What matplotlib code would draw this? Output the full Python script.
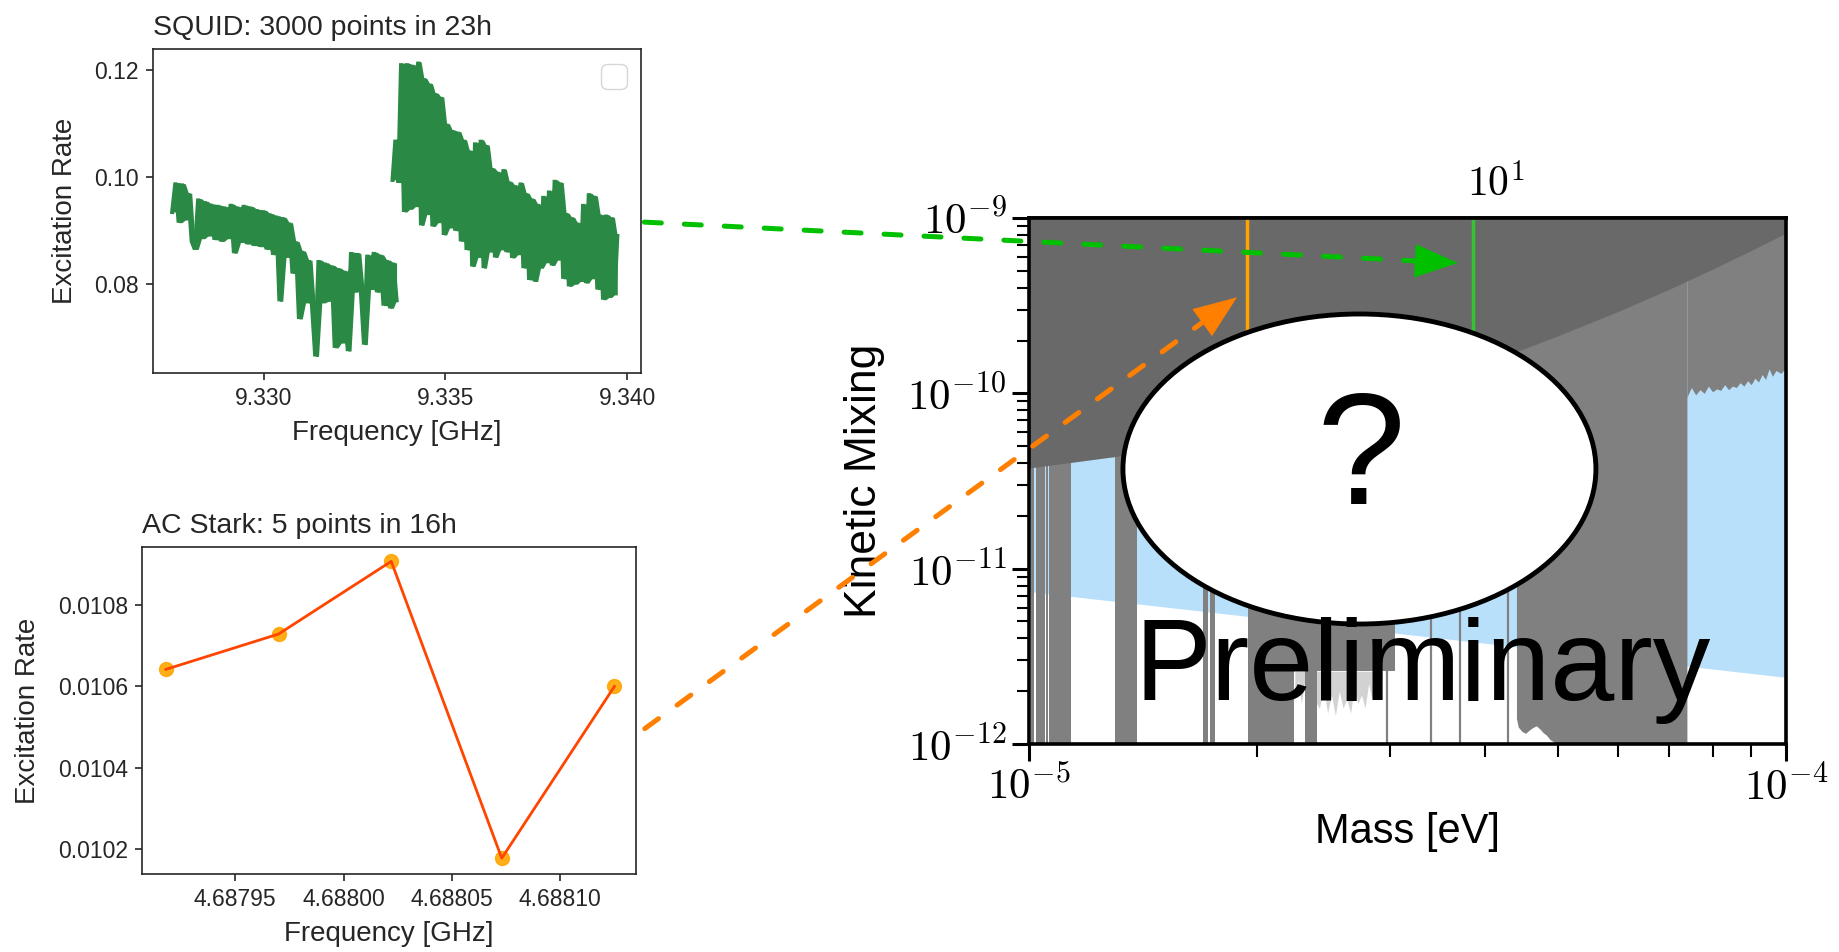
import numpy as np
import pandas as pd
import matplotlib.pyplot as plt
from matplotlib.patches import Ellipse, ConnectionPatch
from matplotlib.ticker import FormatStrFormatter, NullFormatter, LogLocator, FuncFormatter

plt.rcParams['font.family'] = ['Liberation Sans', 'DejaVu Sans']
plt.rcParams['mathtext.fontset'] = 'cm'

# ---------------- data ----------------
# SQUID sweep, two frequency windows (GHz)
squid_a_start, squid_a_stop = 9.327486, 9.333656
squid_a_rate = [0.0935, 0.0990, 0.0915, 0.0988, 0.0920, 0.0970, 0.0880, 0.0865, 0.0960, 0.0885,
                0.0955, 0.0890, 0.0950, 0.0883, 0.0948, 0.0880, 0.0945, 0.0885, 0.0950, 0.0858,
                0.0945, 0.0878, 0.0948, 0.0875, 0.0945, 0.0872, 0.0940, 0.0870, 0.0938, 0.0865,
                0.0932, 0.0855, 0.0928, 0.0768, 0.0925, 0.0850, 0.0915, 0.0820, 0.0880, 0.0735,
                0.0862, 0.0765, 0.0845, 0.0760, 0.0665, 0.0845, 0.0765, 0.0840, 0.0768, 0.0835,
                0.0681, 0.0830, 0.0690, 0.0825, 0.0675, 0.0860, 0.0785, 0.0858, 0.0790, 0.0687,
                0.0855, 0.0790, 0.0860, 0.0785, 0.0855, 0.0760, 0.0845, 0.0755, 0.0840, 0.0770]
squid_b_start, squid_b_stop = 9.333547, 9.339726
squid_b_rate = [0.0995, 0.1070, 0.0990, 0.1213, 0.0935, 0.1213, 0.0940, 0.1210, 0.0945, 0.1216,
                0.0910, 0.1185, 0.0930, 0.1175, 0.0908, 0.1157, 0.0915, 0.1150, 0.0892, 0.1100,
                0.0905, 0.1088, 0.0900, 0.1085, 0.0880, 0.1070, 0.0864, 0.1050, 0.0833, 0.1065,
                0.0850, 0.1070, 0.0830, 0.1060, 0.0860, 0.1017, 0.0850, 0.1010, 0.0864, 0.1015,
                0.0860, 0.0992, 0.0849, 0.0985, 0.0855, 0.0990, 0.0830, 0.0970, 0.0808, 0.0960,
                0.0805, 0.0950, 0.0830, 0.0965, 0.0840, 0.0975, 0.0835, 0.0995, 0.0845, 0.0990,
                0.0810, 0.0933, 0.0796, 0.0925, 0.0800, 0.0915, 0.0805, 0.0950, 0.0802, 0.0970,
                0.0810, 0.0965, 0.0790, 0.0930, 0.0771, 0.0930, 0.0775, 0.0925, 0.0780, 0.0890]

# AC Stark scan
stark_freq = [4.687918, 4.687970, 4.688022, 4.688073, 4.688125]
stark_rate = [0.010642, 0.010729, 0.010908, 0.010177, 0.010600]

# exclusion plot (mass in eV, kinetic mixing)
H_EV_S = 4.135667e-15
cosmo_mass = [1.0e-5, 1.3e-5, 1.6e-5, 2.0e-5, 2.5e-5, 3.0e-5, 3.5e-5, 4.0e-5,
              4.5e-5, 5.0e-5, 6.0e-5, 7.0e-5, 8.0e-5, 9.0e-5, 1.0e-4]
cosmo_eps = [3.75e-11, 4.36e-11, 5.08e-11, 6.23e-11, 7.93e-11, 9.91e-11, 1.22e-10, 1.49e-10,
             1.79e-10, 2.13e-10, 2.93e-10, 3.91e-10, 5.11e-10, 6.53e-10, 8.2e-10]
proj_mass = [1.0e-5, 1.0e-4]
proj_eps = [7.4e-12, 2.4e-12]
band_lo = [1.0061e-5, 1.0215e-5, 1.0540e-5, 1.0621e-5, 1.3007e-5, 1.6959e-5, 1.7366e-5,
           1.9450e-5, 2.3140e-5]
band_hi = [1.0169e-5, 1.0508e-5, 1.0589e-5, 1.1381e-5, 1.3888e-5, 1.7250e-5, 1.7627e-5,
           2.2427e-5, 2.4014e-5]
thin_mass = [2.970e-5, 3.402e-5, 3.708e-5, 4.290e-5]
upper_mass = [2.2427e-5, 3.0495e-5]
upper_low = [2.6e-12, 2.6e-12]
streak_mass = [2.245e-5, 2.27e-5, 2.29e-5, 2.31e-5, 2.42e-5, 2.45e-5, 2.48e-5, 2.51e-5,
               2.54e-5, 2.57e-5, 2.60e-5, 2.63e-5, 2.66e-5, 2.69e-5, 2.72e-5, 2.75e-5,
               2.78e-5, 2.81e-5, 2.84e-5, 2.87e-5, 2.90e-5, 2.93e-5]
streak_low = [1.9e-12, 2.3e-12, 1.7e-12, 2.2e-12, 1.6e-12, 2.1e-12, 1.5e-12, 1.9e-12,
              1.45e-12, 2.0e-12, 1.6e-12, 1.8e-12, 1.5e-12, 2.1e-12, 1.7e-12, 1.9e-12,
              1.6e-12, 2.2e-12, 1.8e-12, 2.3e-12, 2.0e-12, 2.4e-12]
wide_mass = [4.406e-5, 4.43e-5, 4.48e-5, 4.53e-5, 4.58e-5, 4.63e-5, 4.68e-5,
             4.73e-5, 4.78e-5, 4.83e-5, 4.88e-5, 4.95e-5, 4.96e-5, 7.40e-5]
wide_low = [1.4e-12, 1.25e-12, 1.18e-12, 1.15e-12, 1.2e-12, 1.24e-12, 1.27e-12,
            1.22e-12, 1.16e-12, 1.12e-12, 1.06e-12, 1.02e-12, 1.0e-12, 1.0e-12]
right_mass = [7.40e-5, 7.50e-5, 7.60e-5, 7.70e-5, 7.80e-5, 7.90e-5, 8.00e-5, 8.10e-5, 8.20e-5,
              8.30e-5, 8.40e-5, 8.50e-5, 8.60e-5, 8.70e-5, 8.80e-5, 8.90e-5, 9.00e-5, 9.10e-5,
              9.20e-5, 9.30e-5, 9.40e-5, 9.50e-5, 9.60e-5, 9.70e-5, 9.85e-5, 1.0e-4]
right_top = [0.95e-10, 1.08e-10, 0.98e-10, 1.05e-10, 1.0e-10, 1.1e-10, 1.02e-10, 1.06e-10,
             1.04e-10, 1.12e-10, 1.05e-10, 1.1e-10, 1.08e-10, 1.15e-10, 1.1e-10, 1.18e-10,
             1.12e-10, 1.22e-10, 1.16e-10, 1.28e-10, 1.2e-10, 1.38e-10, 1.25e-10, 1.35e-10,
             1.3e-10, 1.4e-10]

# measured transition frequencies (GHz) marked on the exclusion plot
stark_mark_ghz = 4.68802
squid_mark_ghz = 9.33500
top_major_ghz = [10]
top_minor_ghz = [3, 4, 5, 6, 7, 8, 9, 20]

# arrow anchors
squid_arrow_start = (9.34047, 0.0916)
squid_arrow_tip = (3.687e-5, 5.54e-10)
stark_arrow_start = (4.688139, 0.010496)
stark_arrow_tip = (1.883e-5, 3.53e-10)

TEXT = '#262626'
GREEN = '#2a8a45'
DARK = '#696969'
GRAY = '#808080'
BLUE = '#b8e0fa'

fig = plt.figure(figsize=(18.4, 9.52), dpi=100)


def style_small(ax):
    for sp in ax.spines.values():
        sp.set_linewidth(1.2)
        sp.set_color(TEXT)
    ax.tick_params(direction='out', length=5, width=1.2, labelsize=16.5,
                   colors=TEXT, pad=5)
    ax.set_xlabel('Frequency [GHz]', fontsize=20, color=TEXT, labelpad=7)
    ax.set_ylabel('Excitation Rate', fontsize=20, color=TEXT, labelpad=12)


def pow10(v, pos):
    return r'$10^{%d}$' % int(round(np.log10(v)))


# --- SQUID panel ---
ax1 = fig.add_axes([0.0830, 0.6082, 0.2654, 0.3400])
for start, stop, rate in [(squid_a_start, squid_a_stop, squid_a_rate),
                          (squid_b_start, squid_b_stop, squid_b_rate)]:
    f = np.linspace(start, stop, len(rate))
    r = pd.Series(rate)
    lo = r.rolling(2, min_periods=1).min()
    hi = r.rolling(2, min_periods=1).max()
    ax1.fill_between(f, lo, hi, color=GREEN, lw=0)
    ax1.plot(f, rate, color=GREEN, lw=3.0, solid_joinstyle='miter')
ax1.set_xlim(9.32695, 9.34038)
ax1.set_ylim(0.0634, 0.1239)
ax1.set_xticks([9.330, 9.335, 9.340])
ax1.set_yticks([0.08, 0.10, 0.12])
ax1.xaxis.set_major_formatter(FormatStrFormatter('%.3f'))
ax1.yaxis.set_major_formatter(FormatStrFormatter('%.2f'))
style_small(ax1)
ax1.set_title('SQUID: 3000 points in 23h', loc='left', fontsize=20.5, color=TEXT, pad=10)
ax1.legend(handles=[], labels=[], loc='upper right', fontsize=23, borderaxespad=0.45)

# --- AC Stark panel ---
ax2 = fig.add_axes([0.0772, 0.0819, 0.2685, 0.3438])
ax2.plot(stark_freq, stark_rate, 'o', color='#ffa500', ms=10, alpha=0.9, zorder=2)
ax2.plot(stark_freq, stark_rate, '-', color='#ff4500', lw=2, zorder=3)
ax2.set_xlim(4.687907, 4.688135)
ax2.set_ylim(0.010138, 0.010944)
ax2.set_xticks([4.68795, 4.68800, 4.68805, 4.68810])
ax2.set_yticks([0.0102, 0.0104, 0.0106, 0.0108])
ax2.xaxis.set_major_formatter(FormatStrFormatter('%.5f'))
ax2.yaxis.set_major_formatter(FormatStrFormatter('%.4f'))
style_small(ax2)
ax2.set_title('AC Stark: 5 points in 16h', loc='left', fontsize=20.5, color=TEXT, pad=10)

# --- exclusion panel ---
axr = fig.add_axes([0.5592, 0.2185, 0.4114, 0.5525])
axr.set_xscale('log')
axr.set_yscale('log')
axr.set_xlim(1e-5, 1e-4)
axr.set_ylim(1e-12, 1e-9)

axr.fill_between(proj_mass, proj_eps, 1e-9, color=BLUE, lw=0, zorder=1)
for lo, hi in zip(band_lo, band_hi):
    axr.fill_between([lo, hi], 1e-12, 1e-9, color=GRAY, lw=0, zorder=2)
axr.vlines(thin_mass, 1e-12, 1e-9, color=GRAY, lw=1.6, zorder=2)
axr.fill_between(upper_mass, upper_low, 1e-9, color=GRAY, lw=0, zorder=2)
axr.fill_between(streak_mass, streak_low, 2.6e-12, color=GRAY, lw=0, alpha=0.35, zorder=2)
axr.fill_between(wide_mass, wide_low, 1e-9, color=GRAY, lw=0, zorder=2)
axr.fill_between(right_mass, right_top, 1e-9, color=GRAY, lw=0, zorder=2)
axr.fill_between(cosmo_mass, cosmo_eps, 1e-9, color=DARK, lw=0, zorder=3)

m_stark = stark_mark_ghz * 1e9 * H_EV_S
m_squid = squid_mark_ghz * 1e9 * H_EV_S
axr.vlines([m_stark], 1e-10, 1e-9, color='#ffa500', lw=2.5, zorder=4)
axr.vlines([m_squid], 1e-10, 1e-9, color='#33c433', lw=2.5, zorder=4)

axr.add_patch(Ellipse((0.4366, 0.5228), 0.6248, 0.5894, transform=axr.transAxes,
                      facecolor='white', edgecolor='black', lw=3.5, zorder=6))
axr.text(0.439, 0.535, '?', transform=axr.transAxes, fontsize=115,
         ha='center', va='center', zorder=7)
axr.text(0.520, 0.0837, 'Preliminary', transform=axr.transAxes, fontsize=83,
         ha='center', va='baseline', zorder=7)

for sp in axr.spines.values():
    sp.set_linewidth(2.6)
    sp.set_zorder(8)
axr.tick_params(which='major', direction='out', length=12, width=2.2, labelsize=31, pad=4)
axr.tick_params(which='minor', direction='out', length=9, width=1.5)
axr.tick_params(which='both', top=False, right=False)
axr.xaxis.set_major_formatter(FuncFormatter(pow10))
axr.yaxis.set_major_formatter(FuncFormatter(pow10))
axr.xaxis.set_minor_formatter(NullFormatter())
axr.yaxis.set_minor_formatter(NullFormatter())
axr.yaxis.set_minor_locator(LogLocator(base=10, subs=np.arange(2, 10), numticks=20))
axr.set_xlabel('Mass [eV]', fontsize=30, labelpad=2)
axr.set_ylabel('Kinetic Mixing', fontsize=32, labelpad=16)

sec = axr.secondary_xaxis('top', functions=(lambda m: m / H_EV_S / 1e9,
                                            lambda f: f * 1e9 * H_EV_S))
sec.set_xticks(top_major_ghz)
sec.set_xticks(top_minor_ghz, minor=True)
sec.xaxis.set_major_formatter(FuncFormatter(pow10))
sec.xaxis.set_minor_formatter(NullFormatter())
sec.tick_params(which='major', direction='in', length=12, width=2.2, labelsize=30, pad=9)
sec.tick_params(which='minor', direction='in', length=9, width=1.5)
sec.spines['top'].set_linewidth(2.6)

# --- dashed arrows from the scans into the exclusion plot ---
def dashed_arrow(ax_from, xy_from, xy_to, color):
    line = ConnectionPatch(xyA=xy_from, coordsA=ax_from.transData,
                           xyB=xy_to, coordsB=axr.transData,
                           arrowstyle='-', color=color, lw=3.6,
                           linestyle=(0, (3.4, 4.6)), capstyle='round',
                           shrinkA=0, shrinkB=28, annotation_clip=False, zorder=10)
    head = ConnectionPatch(xyA=xy_from, coordsA=ax_from.transData,
                           xyB=xy_to, coordsB=axr.transData,
                           arrowstyle='-|>,head_length=1.55,head_width=0.6',
                           mutation_scale=20, color=color, lw=0,
                           shrinkA=0, shrinkB=0, annotation_clip=False, zorder=10)
    fig.add_artist(line)
    fig.add_artist(head)


dashed_arrow(ax1, squid_arrow_start, squid_arrow_tip, '#00c000')
dashed_arrow(ax2, stark_arrow_start, stark_arrow_tip, '#ff8000')

fig.savefig('out.png', dpi=100)
